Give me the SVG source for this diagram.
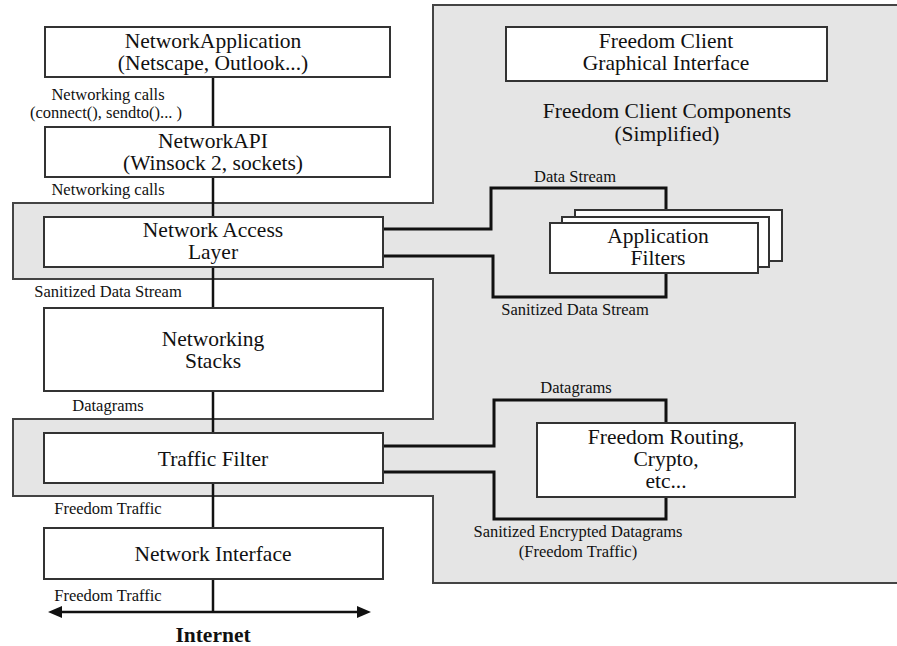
<svg xmlns="http://www.w3.org/2000/svg" width="897" height="646" viewBox="0 0 897 646">
<style>
  text { font-family: "Liberation Serif", "Times New Roman", serif; fill: #111; }
  .node { font-size: 21.5px; text-anchor: middle; }
  .lbl { font-size: 16.5px; text-anchor: middle; }
  .box { fill: #fff; stroke: #333; stroke-width: 2; }
  .conn { fill: none; stroke: #111; stroke-width: 3; }
  .main { fill: none; stroke: #111; stroke-width: 2.5; }
</style>
<defs>
  <marker id="arr" markerUnits="userSpaceOnUse" markerWidth="14" markerHeight="12" refX="6" refY="6" orient="auto-start-reverse">
    <path d="M0,0 L14,6 L0,12 Z" fill="#111"/>
  </marker>
</defs>
<rect width="897" height="646" fill="#fff"/>
<g id="freedom-region">
  <path d="M433,5 H905 V583 H433 V496 H13 V419 H433 V279 H13 V203 H433 Z" fill="#e5e5e5" stroke="#444" stroke-width="2"/>
</g>
<g id="connectors">
  <line class="main" x1="213" y1="77" x2="213" y2="528"/>
  <line class="main" x1="213" y1="579" x2="213" y2="612"/>
  <line class="main" x1="56" y1="612" x2="363" y2="612" marker-start="url(#arr)" marker-end="url(#arr)"/>
  <polyline class="conn" points="383,229 491,229 491,188 666,188 666,210"/>
  <polyline class="conn" points="383,256 493,256 493,297 666,297 666,273"/>
  <polyline class="conn" points="383,446 494,446 494,400 666,400 666,423"/>
  <polyline class="conn" points="383,472 494,472 494,519 666,519 666,497"/>
</g>
<g id="labels">
  <text class="lbl" x="108" y="100">Networking calls</text>
  <text class="lbl" x="106" y="118">(connect(), sendto()... )</text>
  <text class="lbl" x="108" y="195">Networking calls</text>
  <text class="lbl" x="108" y="297">Sanitized Data Stream</text>
  <text class="lbl" x="108" y="411">Datagrams</text>
  <text class="lbl" x="108" y="514">Freedom Traffic</text>
  <text class="lbl" x="108" y="601">Freedom Traffic</text>
  <text class="lbl" x="575" y="182">Data Stream</text>
  <text class="lbl" x="575" y="315">Sanitized Data Stream</text>
  <text class="lbl" x="576" y="393">Datagrams</text>
  <text class="lbl" x="578" y="537">Sanitized Encrypted Datagrams</text>
  <text class="lbl" x="578" y="557">(Freedom Traffic)</text>
  <text class="node" x="667" y="118" font-size="22">Freedom Client Components</text>
  <text class="node" x="667" y="141" font-size="22">(Simplified)</text>
  <text x="213" y="642" font-size="21.5" font-weight="bold" text-anchor="middle">Internet</text>
</g>
<g id="network-application">
  <rect class="box" x="45" y="27" width="345" height="50"/>
  <text class="node" x="213" y="48">NetworkApplication</text>
  <text class="node" x="213" y="70">(Netscape, Outlook...)</text>
</g>
<g id="network-api">
  <rect class="box" x="45" y="127" width="345" height="50"/>
  <text class="node" x="213" y="148">NetworkAPI</text>
  <text class="node" x="213" y="170">(Winsock 2, sockets)</text>
</g>
<g id="network-access-layer">
  <rect class="box" x="44" y="217" width="339" height="50"/>
  <text class="node" x="213" y="237">Network Access</text>
  <text class="node" x="213" y="259">Layer</text>
</g>
<g id="networking-stacks">
  <rect class="box" x="44" y="308" width="339" height="83"/>
  <text class="node" x="213" y="346">Networking</text>
  <text class="node" x="213" y="368">Stacks</text>
</g>
<g id="traffic-filter">
  <rect class="box" x="44" y="433" width="339" height="50"/>
  <text class="node" x="213" y="466">Traffic Filter</text>
</g>
<g id="network-interface">
  <rect class="box" x="44" y="528" width="339" height="51"/>
  <text class="node" x="213" y="561">Network Interface</text>
</g>
<g id="freedom-client-gui">
  <rect class="box" x="506" y="27" width="321" height="54"/>
  <text class="node" x="666" y="48">Freedom Client</text>
  <text class="node" x="666" y="70">Graphical Interface</text>
</g>
<g id="application-filters">
  <rect class="box" x="575" y="210" width="207" height="51"/>
  <rect class="box" x="562" y="217" width="207" height="50"/>
  <rect class="box" x="550" y="223" width="208" height="50"/>
  <text class="node" x="658" y="243">Application</text>
  <text class="node" x="658" y="265">Filters</text>
</g>
<g id="freedom-routing">
  <rect class="box" x="537" y="423" width="258" height="74"/>
  <text class="node" x="666" y="444">Freedom Routing,</text>
  <text class="node" x="666" y="466">Crypto,</text>
  <text class="node" x="666" y="488">etc...</text>
</g>
</svg>
